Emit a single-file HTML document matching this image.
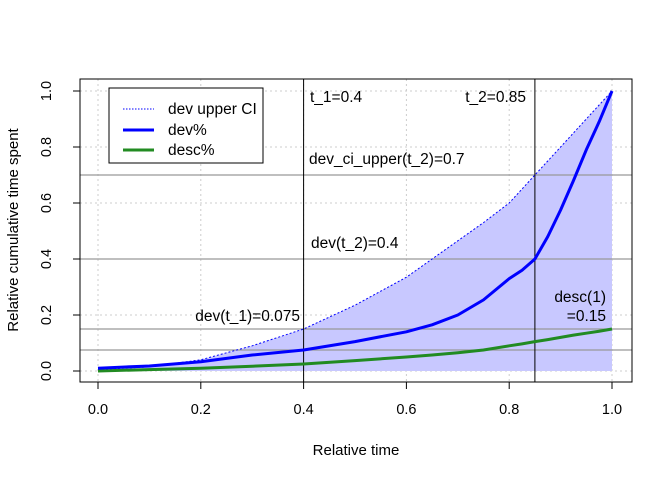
<!DOCTYPE html>
<html><head><style>body{margin:0;background:#fff}svg{font-family:"Liberation Sans",Arial,sans-serif}</style></head>
<body>
<svg id="c" width="672" height="480"></svg>
<script>
const xs=[0,0.1,0.2,0.3,0.4,0.5,0.6,0.65,0.7,0.75,0.8,0.825,0.85,0.875,0.9,0.925,0.95,0.975,1];
const upper=[0.005,0.015,0.04,0.09,0.15,0.235,0.335,0.4,0.465,0.53,0.6,0.65,0.7,0.75,0.8,0.85,0.9,0.95,1];
const dev=[0.01,0.018,0.033,0.057,0.075,0.105,0.14,0.165,0.2,0.254,0.33,0.36,0.4,0.48,0.575,0.68,0.79,0.89,1];
const desc=[0,0.005,0.01,0.017,0.025,0.037,0.05,0.057,0.065,0.075,0.09,0.097,0.105,0.112,0.12,0.128,0.135,0.142,0.15];
const ticks=[0,0.2,0.4,0.6,0.8,1];
const tickLabels=["0.0","0.2","0.4","0.6","0.8","1.0"];
const hlines=[0.075,0.15,0.4,0.7];
const vlines=[0.4,0.85];
const X=v=>98+v*514, Y=v=>371-v*280;
const s=document.getElementById('c');let h='';
ticks.forEach(t=>{h+=`<line x1="${X(t)}" y1="79" x2="${X(t)}" y2="382" stroke="#ccc" stroke-dasharray="2,3"/>`;
h+=`<line x1="80" y1="${Y(t)}" x2="632" y2="${Y(t)}" stroke="#ccc" stroke-dasharray="2,3"/>`;});
let poly=xs.map((x,i)=>`${X(x)},${Y(upper[i])}`).join(' ');
h+=`<polygon points="${X(0)},${Y(0)} ${poly} ${X(1)},${Y(0)}" fill="#c8c8ff"/>`;
hlines.forEach(v=>h+=`<line x1="80" y1="${Y(v)}" x2="632" y2="${Y(v)}" stroke="#999" stroke-width="1.2"/>`);
vlines.forEach(v=>h+=`<line x1="${X(v)}" y1="79" x2="${X(v)}" y2="382" stroke="#000"/>`);
h+=`<polyline points="${poly}" fill="none" stroke="#00f" stroke-dasharray="2,2"/>`;
h+=`<polyline points="${xs.map((x,i)=>`${X(x)},${Y(desc[i])}`).join(' ')}" fill="none" stroke="#228b22" stroke-width="3"/>`;
h+=`<polyline points="${xs.map((x,i)=>`${X(x)},${Y(dev[i])}`).join(' ')}" fill="none" stroke="#00f" stroke-width="3" stroke-linejoin="round"/>`;
h+=`<rect x="80" y="79" width="552" height="303" fill="none" stroke="#000"/>`;
ticks.forEach((t,i)=>{h+=`<line x1="${X(t)}" y1="382" x2="${X(t)}" y2="389" stroke="#000"/><text x="${X(t)}" y="414" font-size="14.5" text-anchor="middle">${tickLabels[i]}</text>`;
h+=`<line x1="73" y1="${Y(t)}" x2="80" y2="${Y(t)}" stroke="#000"/><text transform="translate(51,${Y(t)}) rotate(-90)" font-size="14.5" text-anchor="middle">${tickLabels[i]}</text>`;});
h+=`<text x="356" y="455" font-size="15" text-anchor="middle">Relative time</text>`;
h+=`<text transform="translate(18,230) rotate(-90)" font-size="15" text-anchor="middle">Relative cumulative time spent</text>`;
const ann=[[310,102,"t_1=0.4","start"],[526,102,"t_2=0.85","end"],[309,164,"dev_ci_upper(t_2)=0.7","start"],[311,248,"dev(t_2)=0.4","start"],[300,321,"dev(t_1)=0.075","end"],[606,302,"desc(1)","end"],[606,321,"=0.15","end"]];
ann.forEach(a=>h+=`<text x="${a[0]}" y="${a[1]}" font-size="15.5" text-anchor="${a[3]}">${a[2]}</text>`);
h+=`<g><rect x="109" y="88" width="154" height="75" fill="#fff" stroke="#000"/>
<line x1="123" y1="109" x2="154" y2="109" stroke="#00f" stroke-dasharray="1.5,1.5"/><text x="168" y="114" font-size="15.5">dev upper CI</text>
<line x1="123" y1="130" x2="154" y2="130" stroke="#00f" stroke-width="3"/><text x="168" y="135" font-size="15.5">dev%</text>
<line x1="123" y1="150" x2="154" y2="150" stroke="#228b22" stroke-width="3"/><text x="168" y="155" font-size="15.5">desc%</text></g>`;
s.innerHTML=h;
</script>
</body></html>
